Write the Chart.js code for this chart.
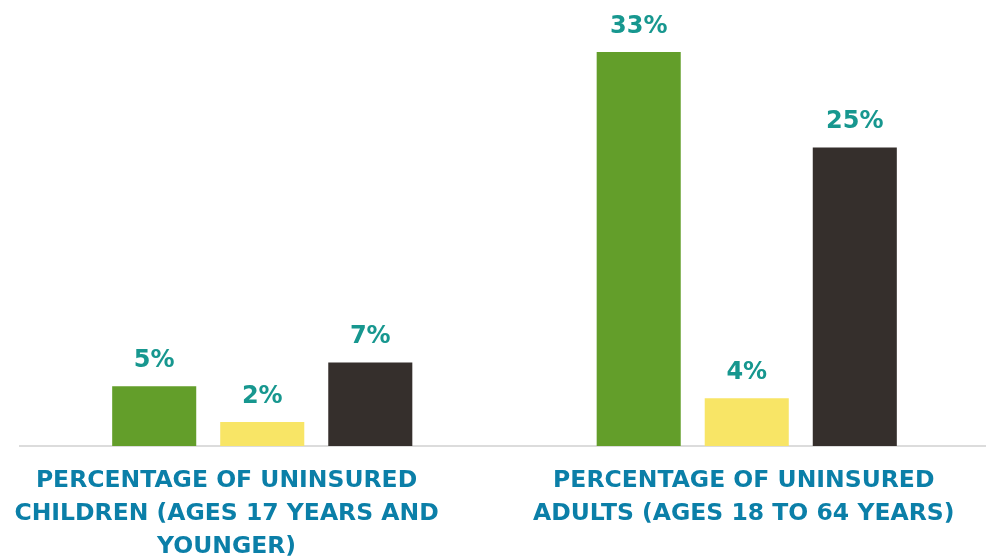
<!DOCTYPE html>
<html>
<head>
<meta charset="utf-8">
<script src="https://cdn.jsdelivr.net/npm/chart.js@4/dist/chart.umd.min.js"></script>
<style>
  html, body { margin: 0; padding: 0; background: #fff; overflow: hidden; }
  #wrap { width: 989px; height: 557px; position: relative; }
</style>
</head>
<body>
<div id="wrap"><canvas id="chart"></canvas></div>
<script>
// Category labels (multi-line, as in the picture)
const categories = [
  ["PERCENTAGE OF UNINSURED", "CHILDREN (AGES 17 YEARS AND", "YOUNGER)"],
  ["PERCENTAGE OF UNINSURED", "ADULTS (AGES 18 TO 64 YEARS)"]
];

// Three series, one bar per series in each group
const seriesA = [5, 33];
const seriesB = [2, 4];
const seriesC = [7, 25];

const barColors = ["#639e2a", "#f8e566", "#352f2c"];
const labelColor = "#17978f";
const axisColor = "#0b7fa8";
const fontFamily = "'DejaVu Sans', Lato, sans-serif";

// Draw the percent labels above each bar
const valueLabels = {
  id: "valueLabels",
  afterDatasetsDraw(chart) {
    const ctx = chart.ctx;
    ctx.save();
    ctx.font = "bold 24px " + fontFamily;
    ctx.fillStyle = labelColor;
    ctx.textAlign = "center";
    ctx.textBaseline = "alphabetic";
    chart.data.datasets.forEach((ds, i) => {
      const meta = chart.getDatasetMeta(i);
      meta.data.forEach((bar, j) => {
        ctx.fillText(ds.data[j] + "%", bar.x, bar.y - 19);
      });
    });
    ctx.restore();
  },
};

const ctx = document.getElementById("chart").getContext("2d");

new Chart(ctx, {
  type: "bar",
  data: {
    labels: categories,
    datasets: [
      { label: "A", data: seriesA, backgroundColor: barColors[0] },
      { label: "B", data: seriesB, backgroundColor: barColors[1] },
      { label: "C", data: seriesC, backgroundColor: barColors[2] },
    ],
  },
  options: {
    responsive: true,
    maintainAspectRatio: false,
    animation: false,
    datasets: {
      bar: {
        categoryPercentage: 0.669,
        barPercentage: 0.778,
      },
    },
    layout: {
      padding: { top: 28, left: 20, right: 0, bottom: 0 },
    },
    scales: {
      x: {
        grid: { display: false, drawTicks: false },
        border: { display: true, color: "#dcdcdc", width: 2 },
        ticks: {
          color: axisColor,
          font: { family: fontFamily, size: 23.5, weight: "bold", lineHeight: 1.39 },
          padding: 19,
          labelOffset: -3,
          maxRotation: 0,
          minRotation: 0,
          autoSkip: false,
          // the first label block sits left of its bars in the original,
          // trailing spaces nudge it over
          callback: function (value, index) {
            const label = this.getLabelForValue(value);
            return index === 0 ? label.map((line) => line + "        ") : label;
          },
        },
        afterFit: (scale) => {
          scale.height = 111; // fixed room for the three-line labels
          scale.paddingLeft = 0; // don't let wide labels squeeze the plot
          scale.paddingRight = 0;
        },
      },
      y: {
        display: false,
        beginAtZero: true,
        min: 0,
        max: 35,
      },
    },
    plugins: {
      legend: { display: false },
      tooltip: { enabled: false },
    },
  },
  plugins: [valueLabels],
});
</script>
</body>
</html>
